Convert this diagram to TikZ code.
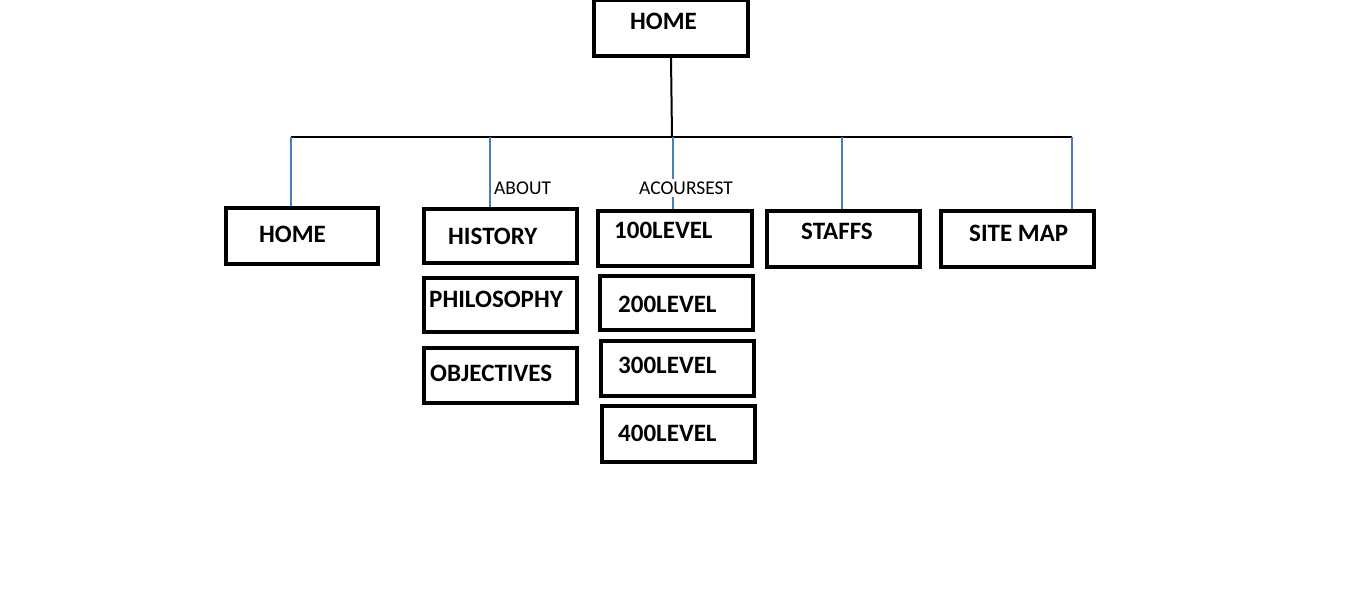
\documentclass[tikz,border=0pt]{standalone}
\usepackage{fontspec}
\setmainfont{Carlito}
\definecolor{linkblue}{RGB}{74,126,187}
\begin{document}
\begin{tikzpicture}[x=1pt,y=-1pt,
  box/.style={draw=black,line width=3.5pt,minimum width=#1,inner sep=0pt},
  box/.default=150pt,
  lbl/.style={font=\fontsize{25}{29}\selectfont\bfseries,anchor=base west,inner sep=0pt},
  small/.style={font=\fontsize{19.5}{23}\selectfont,inner sep=0pt},
  bus/.style={line width=2pt,black},
  drop/.style={line width=1.5pt,linkblue}]
\useasboundingbox[fill=white] (0,0) rectangle (1360,601);
% boxes
\node[box=154pt,minimum height=56pt] (top) at (671,28) {};
\node[box=152pt,minimum height=56pt] (home) at (302,236) {};
\node[box=153pt,minimum height=54pt] (hist) at (500.5,236) {};
\node[box=153pt,minimum height=54pt] (phil) at (500.5,305) {};
\node[box=153pt,minimum height=55pt] (obj) at (500.5,375.5) {};
\node[box=154pt,minimum height=55pt] (l100) at (675,238.5) {};
\node[box=153pt,minimum height=54pt] (l200) at (676.5,303) {};
\node[box=153pt,minimum height=55pt] (l300) at (677.5,368.5) {};
\node[box=153pt,minimum height=56pt] (l400) at (678.5,434) {};
\node[box=153pt,minimum height=56pt] (staffs) at (843.5,239) {};
\node[box=153pt,minimum height=56pt] (site) at (1017.5,239) {};
% labels in boxes
\node[lbl] (tTop) at (630,30) {HOME};
\node[lbl] (tHome) at (259,243) {HOME};
\node[lbl] (tHist) at (448,245) {HISTORY};
\node[lbl] (tPhil) at (429,308) {PHILOSOPHY};
\node[lbl] (tObj) at (430,382) {OBJECTIVES};
\node[lbl] (t100) at (614,239) {100LEVEL};
\node[lbl] (t200) at (618,313) {200LEVEL};
\node[lbl] (t300) at (618,374) {300LEVEL};
\node[lbl] (t400) at (618,441) {400LEVEL};
\node[lbl] (tStaffs) at (801,240) {STAFFS};
\node[lbl] (tSite) at (969,242) {SITE MAP};
% bus
\coordinate (busM) at (672,137);
\coordinate (busL) at (291,137);
\coordinate (busR) at (1072,137);
\coordinate (bA) at (490,137);
\coordinate (bC) at (673,137);
\coordinate (bS) at (842,137);
\draw[bus] (top.south) -- (busM);
\draw[bus] (busL) -- (busR);
\draw[drop] (busL) -- (busL |- home.north);
\draw[drop] (bA) -- (bA |- hist.north);
\draw[drop] (bC) -- (bC |- l100.north);
\draw[drop] (bS) -- (bS |- staffs.north);
\draw[drop] (busR) -- (busR |- site.north);
% connector labels
\node[small,anchor=west] (about) at (494,188) {ABOUT};
\node[small,anchor=west,fill=white,inner ysep=3pt] (courses) at (639,188) {ACOURSEST};
\end{tikzpicture}
\end{document}
